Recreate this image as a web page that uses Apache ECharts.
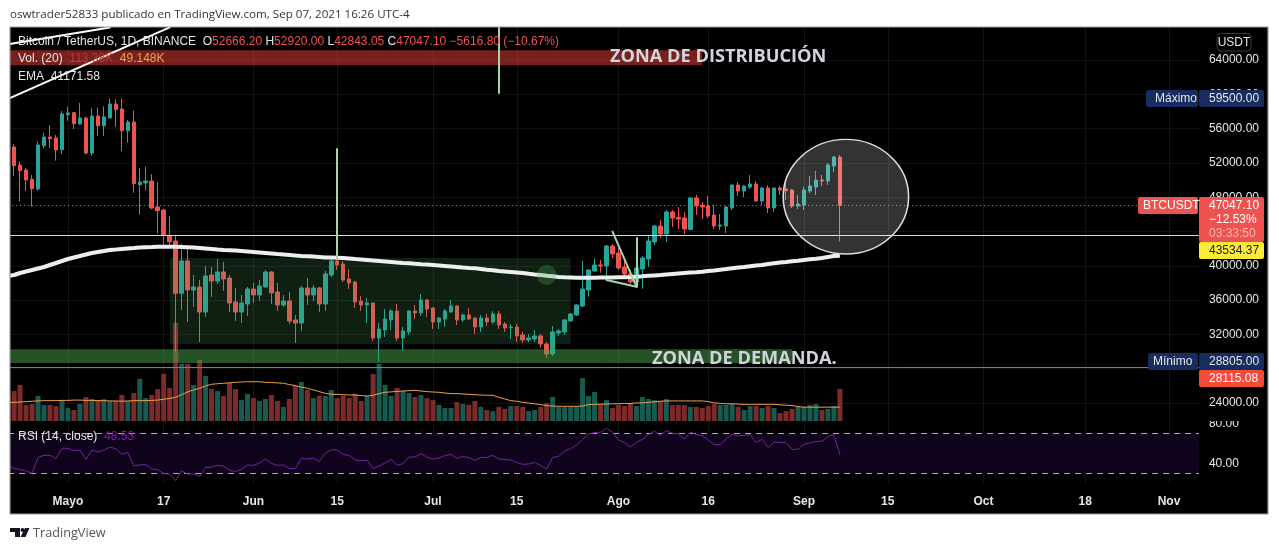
<!DOCTYPE html>
<html><head><meta charset="utf-8">
<style>html,body{margin:0;padding:0;background:#fff;overflow:hidden}#c{width:1279px;height:550px}</style>
<script src="https://cdn.jsdelivr.net/npm/echarts@6/dist/echarts.min.js"></script>
</head><body><div id="c"></div>
<script>
const tickLabels={'2021-05-01':'Mayo','2021-05-17':'17','2021-06-01':'Jun','2021-06-15':'15','2021-07-01':'Jul','2021-07-15':'15','2021-08-01':'Ago','2021-08-16':'16','2021-09-01':'Sep','2021-09-15':'15','2021-10-01':'Oct','2021-10-18':'18','2021-11-01':'Nov'};
// open, close, low, high
const candles=[
[56380,53890,53500,56900],[53855,51680,50510,54200],[51756,51096,47480,52184],[51173,50007,48724,51400],[50085,48997,46900,50590],[48958,54088,48763,54477],[54011,55021,53700,55527],[55021,54827,53739,56382],[54905,53505,52262,55255],[53544,57703,53039,58053],
[57626,57820,56926,58520],[57859,56576,55954,57900],[56537,57237,56460,58986],[57237,53156,52961,57392],[53156,57470,52845,58403],[57470,56343,55138,58442],[56343,57354,55138,58597],[57237,58870,57198,59530],[58870,58208,56188,59414],[58286,55760,53389,59500],
[55760,56770,54360,57000],[56770,49580,48530,58092],[49463,49774,45965,51407],[49658,49890,48763,51562],[49890,46742,46586,50668],[46858,46431,43788,49813],[46509,43555,42430,46586],[43555,42800,42230,45810],[42894,36800,30000,43500],[36800,40562,34848,42544],
[40562,37180,33449,42039],[37180,37530,35198,38930],[37530,34615,31117,38347],[34615,38813,34032,39979],[38930,38230,36364,39862],[38230,39279,37880,40795],[39279,38463,37064,40446],[38580,35664,34615,38930],[35781,34615,33565,37414],[34615,35664,33332,36597],
[35548,37297,34149,37530],[37297,36597,35664,37997],[36597,37647,35898,38347],[37530,39279,37414,39513],[39279,36830,35548,39396],[36947,35431,34732,37997],[35431,35898,35198,36597],[35898,33565,33216,36947],[33682,33332,31000,34265],[33332,37414,32399,37647],
[37414,36597,35431,38580],[36597,37414,35898,37764],[37414,35548,34615,37530],[35548,39046,34732,39396],[38930,40562,38696,40912],[40562,40096,39513,41000],[40212,38347,38113,40562],[38463,37997,37297,39629],[38113,35781,35081,38230],[35898,35431,34732,36481],
[35431,35664,33332,36247],[35664,31583,31233,35700],[31583,32633,28805,33332],[32516,33799,31700,34965],[33682,34732,32516,34965],[34732,31583,31233,35548],[31583,32399,30106,32866],[32283,34732,31933,34848],[34732,34498,33799,35431],[34498,36014,34149,36714],
[36014,34965,34032,36131],[35081,33449,32633,35200],[33449,33915,32633,34032],[33799,34732,32866,34965],[34615,35314,34498,36014],[35314,33682,33099,35400],[33682,34265,33449,34400],[34265,33799,33682,35081],[33915,32866,32050,34000],[32866,33915,32283,34265],
[33915,33449,32982,34382],[33449,34382,33216,34732],[34382,33099,32633,34732],[33216,32749,32283,33449],[32788,32866,31466,33216],[32866,31816,31117,33216],[31933,31350,31000,32283],[31350,31583,31117,32050],[31466,31816,31117,32516],[31816,30883,30417,32050],
[30883,29717,29251,31117],[29717,32283,29484,32983],[32166,32400,31816,32633],[32283,33682,31933,33800],[33565,34382,33500,34500],[34265,35431,34150,35500],[35315,37297,35198,40562],[37177,39510,36400,39626],[39393,40093,39300,40870],[40093,39976,39199,40676],
[39976,42308,38344,42425],[42308,41375,40909,42541],[41492,39743,39510,42075],[39860,39043,38810,40909],[39043,38110,37877,39510],[38110,39743,37600,39850],[39626,40909,37333,41142],[40792,42891,39859,43552],[42774,44640,42425,44757],[44640,43707,43241,45340],
[43707,46273,42775,46506],[46273,45573,44524,46506],[45651,45457,44291,46856],[45573,44291,43707,46273],[44252,47905,44150,47950],[47905,46973,45923,48255],[47051,46856,45457,47439],[46973,45807,45573,48139],[45923,44640,44291,47089],[44640,44757,44174,46040],
[44640,46856,43824,46973],[46740,49421,46506,49500],[49421,48722,48139,49771],[48722,49305,48022,49400],[49188,49538,48955,50587],[49538,47556,47500,49888],[47556,49072,47089,49188],[49072,46739,46156,49383],[46739,49072,46273,49188],[49072,48838,48255,49305],
[48955,48761,47672,49655],[48838,46973,46739,48955],[46973,47206,46623,48255],[47089,48838,46506,49188],[48722,49305,48489,50471],[49188,50004,48255,51054],[50004,49888,49305,50587],[49888,51754,49421,51987],[51637,52686,50937,52803],[52666.2,47047.1,42843.05,52920]
];
const volumes=[90,106,128,57,60,89,57,57,53,71,46,39,60,85,78,74,77,71,71,92,71,99,149,81,92,113,167,117,347,202,202,128,216,159,113,106,89,135,113,74,96,81,71,78,92,71,50,78,124,138,110,81,89,89,110,81,89,81,96,71,89,167,202,128,89,117,106,99,85,92,81,74,57,46,46,67,60,57,71,50,39,35,50,43,53,53,50,35,39,50,64,85,50,50,50,50,152,89,103,60,74,46,57,53,64,53,85,78,74,71,78,57,57,57,50,50,46,53,60,57,57,60,50,39,53,53,46,53,46,28,35,43,50,50,57,60,39,43,53,113.38];
const volumeMA=[65,66,67,68.5,70,71,72,72,72,73,73,74,74,73,73,72,72,71,71,70,71,72,72,72,73,74,77,80,84,93,103,110,116,124,130,132,133.5,135,137,138,139,139,139,137,136,135,133.5,129,125,120,116,110,104,98,94.5,94.5,93,92,92,90,88.6,91,97,101.6,103,105,106,107.5,108.6,106,104,102.5,101.6,99,97,97,95.5,94.5,93,92,91,91,84,78,72,70,66,63.5,61,58,54,53,52,52,52,52,53,58,59,60,60,61,61,62,62,64,64,66,68,70,71,71,71,71,71,71,71,68.5,64,62.5,61,61,60,59,59,59,59,59,59,57.5,56,55,51,49,49,49,49,49,49,49,50,49.148].slice(0,140);
const rsiValues=[38,34.7,34,32.3,30,46,48,48,44.7,55,55,52.7,53.3,44,53.3,51.3,53.3,56,54.7,49,51,37.7,38.3,38.7,34.3,33.7,29.7,29.3,22.7,32.3,29.3,29.3,26.7,36,36,38,37.3,33,31.7,34,38.3,38,40.3,44.3,40,38,38.3,34.7,34.7,45,44.3,45.3,42,50,53.7,53.3,48.7,48,43.3,42.7,43,34.7,37.3,40.3,44,38,39.7,46.3,46.3,49.7,46,44.3,45.3,47.7,49,45,46.7,45.7,43,46,45.7,48,44.3,44,43.3,40.7,39,39.3,41,37.7,34.3,46,46.7,52.3,54.7,58.3,64,69.3,70.7,71,75,71.3,63.3,60.7,56.3,61,64,68.7,72,68,72.7,70,69.3,64.3,71.3,68.7,67.7,63.3,58.7,58.7,64.3,69,67.3,68,68.7,60.7,64,55.7,61.3,61,60.7,54,54,59,60.3,62,62,66.7,68.7,48.53];
const emaValues=[38810,38927,39160,39335,39510,39685,39860,40093,40326,40559,40792,40967,41142,41317,41492,41609,41725,41842,41900,41959,42017,42075,42134,42169,42192,42216,42227,42227,42216,42192,42157,42122,42075,42017,41959,41900,41842,41807,41772,41725,41667,41609,41550,41492,41434,41375,41317,41259,41200,41142,41107,41072,41026,40967,40979,40944,40909,40851,40792,40734,40676,40617,40559,40501,40443,40384,40326,40291,40233,40186,40140,40093,40035,39976,39918,39860,39801,39743,39708,39626,39545,39475,39393,39335,39276,39218,39160,39078,38997,38927,38845,38775,38693,38658,38635,38611,38600,38600,38611,38623,38635,38646,38658,38670,38693,38728,38775,38833,38880,38927,38985,39044,39102,39160,39207,39253,39311,39393,39463,39545,39626,39708,39790,39860,39941,40023,40093,40198,40291,40373,40443,40524,40594,40676,40758,40828,40909,41026,41142,41171.58];
const dailyLines={last:47047.10,ema:43534.37,low:28115.08,max:59500,min:28805};
const colUp='#26a69a',colDown='#ef5350';
const F='"Liberation Sans",sans-serif';

const categories=[];
for(let k=0;k<200;k++){categories.push(new Date(Date.UTC(2021,3,21+k)).toISOString().slice(0,10));}
const cat=k=>categories[k];
const isTick=(i,v)=>tickLabels[v]!==undefined;
const baseX={type:'category',data:categories,boundaryGap:true,axisLine:{show:false},axisTick:{show:false},axisLabel:{show:false},
  splitLine:{show:true,alignWithLabel:true,interval:isTick,lineStyle:{color:'#141414',width:1}}};
const hLine=(v,color,type,width)=>[{coord:[cat(0),v],lineStyle:{color,type,width}},{coord:[cat(199),v]}];
const seg=(k1,p1,k2,p2,color,width)=>[{coord:[cat(k1),p1],lineStyle:{color,width,type:'solid',cap:'round'}},{coord:[cat(k2),p2]}];
const area=(k1,p1,k2,p2,color)=>[{coord:[cat(k1),p1],itemStyle:{color}},{coord:[cat(k2),p2]}];
const T=(x,y,text,fill,size,extra)=>Object.assign({type:'text',z:110,x,y:y+0.6,style:Object.assign({text,fill,font:(size||12)+'px '+F,textVerticalAlign:'middle',verticalAlign:'middle'},extra||{})});
const R=(x,y,w,h,fill,r,z)=>({type:'rect',z:z||105,shape:{x,y,width:w,height:h,r:r||0},style:{fill}});

const option={
 animation:false,backgroundColor:'#000',
 grid:[
  {left:5.124,width:1196.8,top:25.7,height:411.6},
  {left:5.124,width:1196.8,top:321,height:100},
  {left:5.124,width:1196.8,top:423.3,height:60}
 ],
 xAxis:[
  Object.assign({gridIndex:0},baseX),
  Object.assign({gridIndex:1},baseX,{splitLine:{show:false}}),
  Object.assign({gridIndex:2},baseX,{axisLabel:{show:true,interval:isTick,margin:12,color:'#e6e6e6',fontFamily:F,fontSize:12,fontWeight:'bold',formatter:v=>tickLabels[v]||''}})
 ],
 yAxis:[
  {gridIndex:0,type:'value',position:'right',min:20000,max:68000,interval:4000,axisLine:{show:false},axisTick:{show:false},
   axisLabel:{color:'#e6e6e6',fontFamily:F,fontSize:12,margin:7,padding:[3,0,0,0],formatter:v=>(v===20000||v===68000)?'':v.toFixed(2)},
   splitLine:{show:true,lineStyle:{color:'#111',width:1}}},
  {gridIndex:1,type:'value',position:'right',min:0,max:354,show:false},
  {gridIndex:2,type:'value',position:'right',min:20,max:80,interval:20,axisLine:{show:false},axisTick:{show:false},
   axisLabel:{color:'#e6e6e6',fontFamily:F,fontSize:12,margin:7,padding:[3,0,0,0],formatter:v=>(v===80||v===40)?v.toFixed(2):''},splitLine:{show:false}}
 ],
 series:[
  {name:'Vol',type:'bar',xAxisIndex:1,yAxisIndex:1,barWidth:5,z:1,
   data:volumes.map((v,i)=>({value:v,itemStyle:{color:candles[i][1]>=candles[i][0]?'#185a50':'#7d2a2a'}}))},
  {name:'VolMA',type:'line',xAxisIndex:1,yAxisIndex:1,data:volumeMA,showSymbol:false,z:2,lineStyle:{color:'#f0a050',width:1}},
  {name:'BTCUSDT',type:'candlestick',xAxisIndex:0,yAxisIndex:0,data:candles,barWidth:4,z:3,
   itemStyle:{color:colUp,color0:colDown,borderColor:colUp,borderColor0:colDown,borderWidth:1}},
  {name:'zones',type:'line',xAxisIndex:0,yAxisIndex:0,data:[],z:4,
   markArea:{silent:true,z:4,label:{show:false},data:[
     area(0,65131,116,63382,'rgba(240,65,55,0.5)'),
     area(131,30262,0,28664,'rgba(76,165,76,0.5)'),
     area(27,40909,94,30880,'rgba(75,154,90,0.2)')
   ]}},
  {name:'EMA',type:'line',xAxisIndex:0,yAxisIndex:0,data:emaValues,showSymbol:false,z:5,lineStyle:{color:'#eeeeee',width:4,cap:'butt'}},
  {name:'levels',type:'line',xAxisIndex:0,yAxisIndex:0,data:[],z:6,
   markLine:{silent:true,symbol:'none',label:{show:false},z:6,data:[
     hLine(dailyLines.last,'#f0625f',[1,3],1),
     hLine(dailyLines.ema,'#f5e642','solid',1),
     hLine(dailyLines.low,'#f0503f','solid',1),
     seg(55,53621,55,40800,'#a5d6a7',2),
     seg(82,67900,82,60151,'#a5d6a7',2),
     seg(105,43241,105,37562,'#a5d6a7',2),
     seg(101,43976,105,37562,'#a5d6a7',2),
     seg(100,38343,105,37562,'#a5d6a7',2),
     seg(0,65830,17,67800,'#ffffff',2),
     seg(0,59470,27,67800,'#ffffff',2)
   ]}},
  {name:'ellipse',type:'scatter',xAxisIndex:0,yAxisIndex:0,z:7,symbol:'circle',symbolSize:[125.4,114.6],silent:true,
   data:[[cat(140),48058]],itemStyle:{color:'rgba(255,255,255,0.2)',borderColor:'#dddddd',borderWidth:1.5,opacity:1}},
  {name:'dot',type:'scatter',xAxisIndex:0,yAxisIndex:0,z:7,symbol:'circle',symbolSize:20,silent:true,
   data:[[cat(90),38927]],itemStyle:{color:'rgba(76,175,80,0.3)',opacity:1}},
  {name:'RSI',type:'line',xAxisIndex:2,yAxisIndex:2,data:rsiValues,showSymbol:false,z:5,lineStyle:{color:'#7b1fa2',width:1},
   markArea:{silent:true,z:1,data:[area(0,70,199,30,'#10031c')]},
   markLine:{silent:true,symbol:'none',label:{show:false},data:[hLine(70,'#b0aeb5',[6,5],1),hLine(30,'#b0aeb5',[6,5],1)]}}
 ],
 graphic:{elements:[
  // page margins and frame
  R(0,0,10,550,'#fff',0,90),R(0,0,1279,27,'#fff',0,90),R(0,514,1279,36,'#fff',0,90),R(1268,0,11,550,'#fff',0,90),
  {type:'rect',z:91,shape:{x:10,y:27,width:1258,height:487},style:{fill:'none',stroke:'#9a9ca3',lineWidth:1.2}},
  T(10,14,'oswtrader52833 publicado en TradingView.com, Sep 07, 2021 16:26 UTC-4','#333',12,{font:'11.6px "Open Sans",sans-serif'}),
  T(33,532.5,'TradingView','#555',13,{font:'12.7px "Open Sans",sans-serif'}),
  {type:'polygon',z:110,shape:{points:[[10,528],[20,528],[20,537],[15,537],[15,532],[10,532]]},style:{fill:'#131722'}},
  {type:'circle',z:110,shape:{cx:22.5,cy:530,r:2},style:{fill:'#131722'}},
  {type:'polygon',z:110,shape:{points:[[25,528],[29.5,528],[25.5,537],[20.5,537]]},style:{fill:'#131722'}},
  // legend
  {type:'text',z:110,x:18,y:42,style:{text:'{w|Bitcoin / TetherUS, 1D, BINANCE  O}{r|52666.20} {w|H}{r|52920.00} {w|L}{r|42843.05} {w|C}{r|47047.10} {r|\u22125616.80 (\u221210.67%)}',verticalAlign:'middle',font:'12px '+F,rich:{w:{fill:'#e6e6e6',font:'12px '+F},r:{fill:'#ef5350',font:'12px '+F}}}},
  {type:'text',z:110,x:18,y:59,style:{text:'{w|Vol. (20)}  {r|113.38K}  {o|49.148K}',verticalAlign:'middle',font:'12px '+F,rich:{w:{fill:'#e6e6e6',font:'12px '+F},r:{fill:'#c0393b',font:'12px '+F},o:{fill:'#f0a050',font:'12px '+F}}}},
  T(18,76,'EMA  41171.58','#e6e6e6',12),
  {type:'text',z:110,x:18,y:437,style:{text:'{w|RSI (14, close)}  {p|48.53}',verticalAlign:'middle',font:'12px '+F,rich:{w:{fill:'#e6e6e6',font:'12px '+F},p:{fill:'#7b1fa2',font:'12px '+F}}}},
  // annotations
  T(610,56,'ZONA DE DISTRIBUCI\u00d3N','#d1d4dc',18,{font:'bold 18.2px "Open Sans",sans-serif'}),
  T(652,358,'ZONA DE DEMANDA.','#d1d4dc',18,{font:'bold 18.2px "Open Sans",sans-serif'}),
  // clip of the 80.00 label
  R(1199,410,67,11,'#000',0,104),
  // price tags
  {type:'rect',z:105,shape:{x:1217,y:33.5,width:34,height:17.5,r:4},style:{fill:'#000',stroke:'#3a3a3a',lineWidth:1}},
  T(1234,42.5,'USDT','#e6e6e6',12,{textAlign:'center',align:'center'}),
  R(1146,90,52,17,'#172c5f',2),R(1199,90,65,17,'#172c5f',2),
  T(1155,98.5,'M\u00e1ximo','#e6e6e6',12),T(1209,98.5,dailyLines.max.toFixed(2),'#e6e6e6',12),
  R(1138,197,60,17,'#ef5350',2),R(1199,197,65,45,'#ef5350',2),
  T(1143,205.5,'BTCUSDT','#fff',12),T(1209,205.5,dailyLines.last.toFixed(2),'#fff',12),
  T(1209,219,'\u221212.53%','#fff',12),T(1209,233,'03:33:50','#f9b5b3',12),
  R(1199,242,65,17,'#fdeb3b',2),T(1209,250.5,dailyLines.ema.toFixed(2),'#222',12),
  R(1148,353,50,17,'#172c5f',2),R(1199,353,65,17,'#172c5f',2),
  T(1153,361.5,'M\u00ednimo','#e6e6e6',12),T(1209,361.5,dailyLines.min.toFixed(2),'#e6e6e6',12),
  R(1199,370,65,17,'#f44a3a',2),T(1209,378.5,dailyLines.low.toFixed(2),'#fff',12)
 ]}
};
const chart=echarts.init(document.getElementById('c'),null,{renderer:'canvas',width:1279,height:550});
chart.setOption(option);
</script></body></html>
